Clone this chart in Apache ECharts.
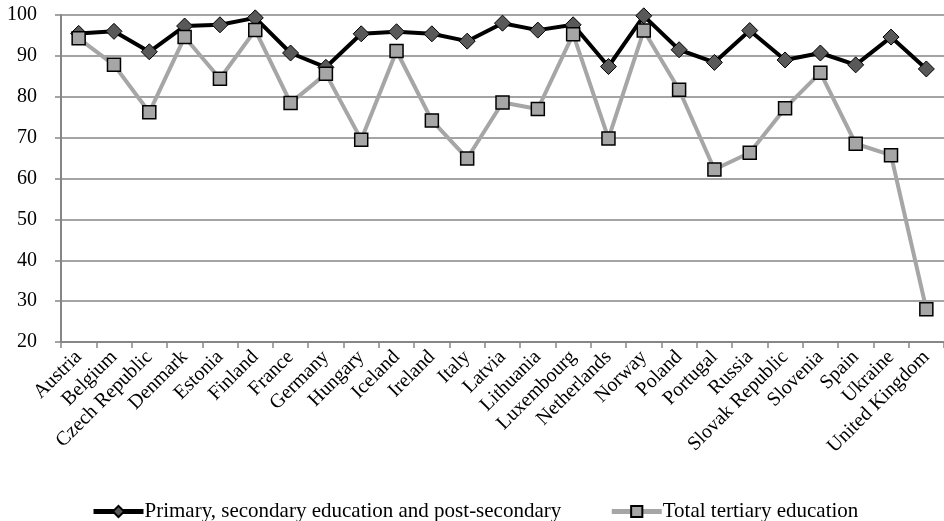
<!DOCTYPE html>
<html><head><meta charset="utf-8">
<script src="https://cdn.jsdelivr.net/npm/echarts@6/dist/echarts.min.js"></script>
<style>html,body{margin:0;padding:0;background:#fff}#c{width:944px;height:521px}</style>
</head><body><div id="c"></div>
<script>
const categories = ["Austria","Belgium","Czech Republic","Denmark","Estonia","Finland","France","Germany","Hungary","Iceland","Ireland","Italy","Latvia","Lithuania","Luxembourg","Netherlands","Norway","Poland","Portugal","Russia","Slovak Republic","Slovenia","Spain","Ukraine","United Kingdom"];
const primarySecondary = [95.5,96.0,91.0,97.3,97.6,99.3,90.7,87.2,95.4,95.9,95.4,93.6,98.0,96.3,97.6,87.4,99.8,91.5,88.4,96.2,89.0,90.7,87.8,94.6,86.8];
const tertiary = [94.3,87.8,76.2,94.6,84.4,96.3,78.5,85.6,69.5,91.2,74.2,64.9,78.6,77.0,95.3,69.8,96.2,81.7,62.2,66.3,77.2,85.9,68.5,65.7,28.0];
const yTicks = {min:20,max:100,interval:10};
const names = ["Primary, secondary education and post-secondary","Total tertiary education"];

const chart = echarts.init(document.getElementById('c'));
const font = "Liberation Serif";
chart.setOption({
  animation:false,
  textStyle:{fontFamily:font},
  grid:{left:61,right:0,top:15,bottom:179,containLabel:false},
  legend:{
    top:496,left:86,itemGap:48,itemWidth:50,itemHeight:14,
    textStyle:{fontFamily:font,fontSize:21,color:'#000',padding:[0,0,0,-4]},
    data:[
      {name:names[0],lineStyle:{width:5,color:'#000'}},
      {name:names[1],lineStyle:{width:5,color:'#A6A6A6'}}
    ]
  },
  xAxis:{
    type:'category',data:categories,boundaryGap:true,
    axisLine:{lineStyle:{color:'#868686',width:2}},
    axisTick:{show:true,length:6,lineStyle:{color:'#868686',width:1.5},interval:0},
    axisLabel:{rotate:45,interval:0,fontFamily:font,fontSize:20,color:'#000',margin:12}
  },
  yAxis:{
    type:'value',min:yTicks.min,max:yTicks.max,interval:yTicks.interval,
    axisLine:{show:true,lineStyle:{color:'#868686',width:2}},
    axisTick:{show:true,length:6,lineStyle:{color:'#868686',width:1.5}},
    splitLine:{lineStyle:{color:'#868686',width:1.5}},
    axisLabel:{fontFamily:font,fontSize:20,color:'#000',margin:24}
  },
  series:[
    {name:names[0],type:'line',data:primarySecondary,symbol:'diamond',symbolSize:16,
     lineStyle:{color:'#000',width:4},
     itemStyle:{color:'#595959',borderColor:'#000',borderWidth:1},z:2},
    {name:names[1],type:'line',data:tertiary,symbol:'rect',symbolSize:13,
     lineStyle:{color:'#A6A6A6',width:4},
     itemStyle:{color:'#A6A6A6',borderColor:'#000',borderWidth:1.5},z:3}
  ]
});
</script></body></html>
